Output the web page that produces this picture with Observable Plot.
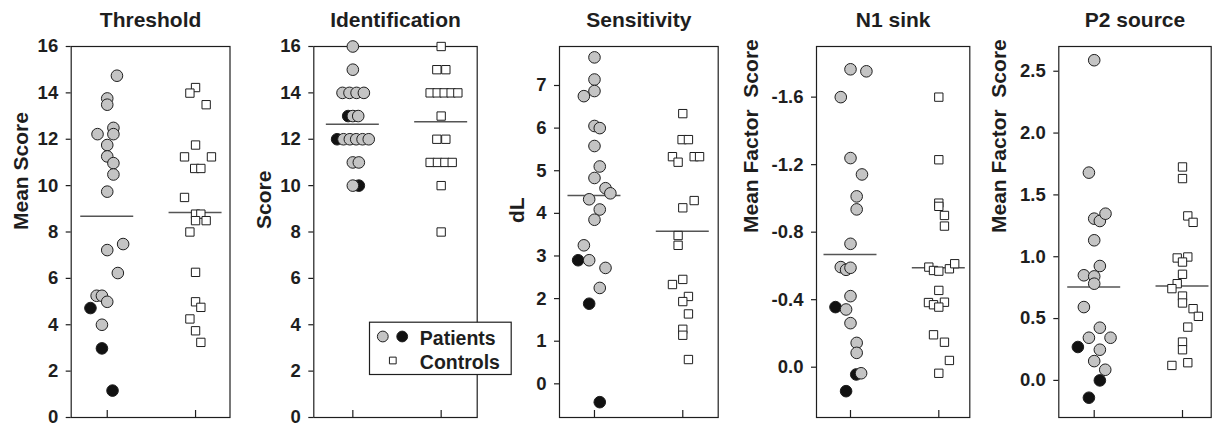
<!DOCTYPE html>
<html><head><meta charset="utf-8">
<script src="https://cdn.jsdelivr.net/npm/d3@7"></script>
<script src="https://cdn.jsdelivr.net/npm/@observablehq/plot@0.6"></script>
<style>
body{margin:0;background:#fff;}
#chart{display:flex;width:1218px;height:423px;}
#chart svg{overflow:visible;flex:none;}
</style></head><body><div id="chart"></div>
<script>
// ---------- data (jitter = horizontal offset in group units) ----------
const groupNames = ["Patients", "Controls"]; // drawn at x = 1 and x = 2

// Threshold
const thrGray    = [14.74,13.76,13.49,12.22,12.49,12.22,11.75,11.26,10.97,10.48,9.74,7.22,7.48,6.23,5.25,5.25,4.99,4.0];
const thrGrayJit = [0.11,0,0,-0.11,0.07,0.07,0,0,0.07,0.07,0,0,0.18,0.12,-0.12,-0.06,0,-0.06];
const thrBlack    = [4.72,2.98,1.16];
const thrBlackJit = [-0.19,-0.06,0.06];
const thrCtrl    = [14.23,13.99,13.49,11.75,11.24,11.24,10.74,10.74,9.49,8.77,8.77,8.49,8.49,8.0,6.26,4.99,4.75,4.25,3.74,3.24];
const thrCtrlJit = [0,-0.064,0.12,0,-0.125,0.18,-0.01,0.06,-0.125,0,0.06,0,0.12,-0.064,0,0,0.06,-0.064,0,0.06];
const thrMeans = [8.68, 8.84];
const thrTicks = [0,2,4,6,8,10,12,14,16];

// Identification
const idGray    = [16,15,14,14,14,14,13,13,12,12,12,12,12,11,11,10];
const idGrayJit = [0,0,-0.117,-0.038,0.042,0.125,0,0.061,-0.106,-0.034,0.038,0.11,0.18,0,0.068,0];
const idBlack    = [13,12,10];
const idBlackJit = [-0.053,-0.178,0.068];
const idCtrl    = [16,15,15,14,14,14,14,14,13,12,12,11,11,11,11,10,8];
const idCtrlJit = [0,-0.049,0.053,-0.125,-0.045,0.034,0.113,0.189,0,-0.049,0.053,-0.125,-0.042,0.042,0.125,0,0];
const idMeans = [12.65, 12.75];
const idTicks = [0,2,4,6,8,10,12,14,16];

// Sensitivity
const senGray    = [7.66,7.14,6.87,6.75,6.05,6.0,5.58,5.10,4.83,4.59,4.47,4.33,4.09,3.85,3.25,2.90,2.72,2.25];
const senGrayJit = [0,0,0,-0.12,0,0.06,0,0.06,0,0.125,0.18,-0.06,0.06,0,-0.12,-0.06,0.125,0.06];
const senBlack    = [2.90,1.88,-0.43];
const senBlackJit = [-0.185,-0.06,0.06];
const senCtrl    = [6.34,5.73,5.73,5.33,5.20,5.33,5.33,4.30,4.13,3.48,3.25,2.33,2.45,2.05,1.93,1.64,1.28,1.14,0.57];
const senCtrlJit = [0,-0.008,0.064,-0.117,-0.053,0.129,0.19,0.129,0,-0.053,-0.053,-0.117,0,0.064,0,0.064,0,0,0.064];
const senMeans = [4.42, 3.58];
const senTicks = [0,1,2,3,4,5,6,7];

// N1 sink
const n1Gray    = [-1.765,-1.753,-1.60,-1.239,-1.142,-1.012,-0.935,-0.731,-0.593,-0.577,-0.589,-0.421,-0.342,-0.261,-0.144,-0.085,0.036];
const n1GrayJit = [0,0.18,-0.11,0,0.13,0.07,0.07,0,-0.11,-0.05,0,0,-0.05,0,0.07,0.07,0.12];
const n1Black    = [-0.356,0.043,0.142];
const n1BlackJit = [-0.17,0.065,-0.05];
const n1Ctrl    = [-1.60,-1.229,-0.972,-0.953,-0.899,-0.836,-0.593,-0.573,-0.569,-0.583,-0.613,-0.455,-0.383,-0.370,-0.385,-0.356,-0.192,-0.148,-0.040,0.036];
const n1CtrlJit = [0,0,0,0,0.064,0.064,-0.113,-0.06,0,0.12,0.18,0,-0.117,-0.06,0.064,0,-0.06,0.064,0.12,0];
const n1Means = [-0.668, -0.589];
const n1Ticks = [-1.6,-1.2,-0.8,-0.4,0.0];

// P2 source
const p2Gray    = [2.589,1.680,1.308,1.289,1.348,1.133,0.925,0.850,0.841,0.782,0.593,0.426,0.345,0.345,0.248,0.156,0.086];
const p2GrayJit = [0,-0.06,0,0.064,0.128,0,0.064,-0.117,0,0,-0.117,0.064,-0.06,0.185,0.064,0,0.125];
const p2Black    = [0.270,0.0,-0.140];
const p2BlackJit = [-0.185,0.064,-0.06];
const p2Ctrl    = [1.726,1.632,1.330,1.278,0.990,0.998,0.957,0.858,0.782,0.742,0.682,0.626,0.580,0.518,0.431,0.310,0.248,0.121,0.143];
const p2CtrlJit = [0,0,0.06,0.12,-0.06,0.06,0,0,-0.06,-0.12,0,0,0.12,0.18,0.06,0,0,-0.12,0.06];
const p2Means = [0.755, 0.763];
const p2Ticks = [0,0.5,1.0,1.5,2.0,2.5];

const titles = ["Threshold","Identification","Sensitivity","N1 sink","P2 source"];
const yLabels = ["Mean Score","Score","dL","Mean Factor  Score","Mean Factor  Score"];
const legendLabels = ["Patients","Controls"];

// ---------- drawing ----------
const FONT = "'Liberation Sans', Arial, Helvetica, sans-serif";
const INK = "#1e1e1e";
const rows = (vals, jit, pos) => vals.map((v, i) => ({x: pos + jit[i], v}));

const panels = [
  {gray:[thrGray,thrGrayJit], black:[thrBlack,thrBlackJit], ctrl:[thrCtrl,thrCtrlJit], means:thrMeans, ticks:thrTicks, fmt:d=>String(d),
   yDomain:[0,16], reverse:false, xDomain:[0.592,2.390], width:250, ml:70.7, mr:20.5, labelDx:-50.2, labelDy:-2},
  {gray:[idGray,idGrayJit], black:[idBlack,idBlackJit], ctrl:[idCtrl,idCtrlJit], means:idMeans, ticks:idTicks, fmt:d=>String(d),
   yDomain:[0,16], reverse:false, xDomain:[0.558,2.408], width:250, ml:63.3, mr:23.3, labelDx:-49.1, labelDy:-3, legend:true},
  {gray:[senGray,senGrayJit], black:[senBlack,senBlackJit], ctrl:[senCtrl,senCtrlJit], means:senMeans, ticks:senTicks, fmt:d=>String(d),
   yDomain:[-0.79,7.915], reverse:false, xDomain:[0.604,2.401], width:250, ml:59, mr:32.3, labelDx:-42.3, labelDy:-9},
  {gray:[n1Gray,n1GrayJit], black:[n1Black,n1BlackJit], ctrl:[n1Ctrl,n1CtrlJit], means:n1Means, ticks:n1Ticks, fmt:d=>d.toFixed(1),
   yDomain:[-1.90,0.298], reverse:true, xDomain:[0.615,2.351], width:235, ml:66, mr:15.7, labelDx:-65.2, labelDy:1},
  {gray:[p2Gray,p2GrayJit], black:[p2Black,p2BlackJit], ctrl:[p2Ctrl,p2CtrlJit], means:p2Means, ticks:p2Ticks, fmt:d=>d.toFixed(1),
   yDomain:[-0.30,2.70], reverse:false, xDomain:[0.599,2.325], width:233, ml:73.3, mr:7.3, labelDx:-59.1, labelDy:1}
];

const chart = document.getElementById("chart");
panels.forEach((p, k) => {
  const meanRows = p.means.map((m, i) => ({pos: i + 1, m}));
  const marks = [
    Plot.frame({stroke: INK, strokeWidth: 1.2}),
    Plot.ruleX([1, 2], {insetTop: 364, stroke: INK, strokeWidth: 1.2}),
    Plot.axisY({ticks: p.ticks, tickFormat: p.fmt, tickSize: 5, tickPadding: 8, label: null,
                fontSize: 18.5, fontWeight: "bold", fill: INK, stroke: INK, strokeWidth: 1.2}),
    Plot.ruleY(meanRows, {y: "m", x1: d => d.pos - 0.3, x2: d => d.pos + 0.3, stroke: "#555", strokeWidth: 1.5}),
    Plot.dot(rows(p.black[0], p.black[1], 1), {x: "x", y: "v", r: 5.8, fill: "#111", stroke: INK, strokeWidth: 1}),
    Plot.dot(rows(p.gray[0], p.gray[1], 1), {x: "x", y: "v", r: 5.8, fill: "#c4c4c4", stroke: INK, strokeWidth: 1}),
    Plot.dot(rows(p.ctrl[0], p.ctrl[1], 2), {x: "x", y: "v", symbol: "square", r: 4.7, fill: "white", stroke: INK, strokeWidth: 1}),
    Plot.text([titles[k]], {text: d => d, frameAnchor: "top", dy: -20, lineAnchor: "bottom",
               fontSize: 21, fontWeight: "bold", fill: INK}),
    Plot.text([yLabels[k]], {text: d => d, frameAnchor: "left", dx: p.labelDx, dy: p.labelDy, rotate: -90,
               fontSize: 21, fontWeight: "bold", fill: INK})
  ];
  if (p.legend) {
    marks.push(
      Plot.frame({insetLeft: 55.7, insetRight: -34, insetTop: 275.7, insetBottom: 43, fill: "white", stroke: INK, strokeWidth: 1.2}),
      Plot.dot([0], {frameAnchor: "top-left", dx: 69, dy: 290, r: 5.4, fill: "#c4c4c4", stroke: INK, strokeWidth: 1}),
      Plot.dot([0], {frameAnchor: "top-left", dx: 88.4, dy: 290, r: 5.4, fill: "#111", stroke: INK, strokeWidth: 1}),
      Plot.dot([0], {frameAnchor: "top-left", dx: 79, dy: 314, r: 3.8, symbol: "square", fill: "white", stroke: INK, strokeWidth: 1}),
      Plot.text([legendLabels[0]], {text: d => d, frameAnchor: "top-left", dx: 106, dy: 298, textAnchor: "start", lineAnchor: "bottom",
                 fontSize: 19.5, fontWeight: "bold", fill: INK}),
      Plot.text([legendLabels[1]], {text: d => d, frameAnchor: "top-left", dx: 106, dy: 322.3, textAnchor: "start", lineAnchor: "bottom",
                 fontSize: 19.5, fontWeight: "bold", fill: INK})
    );
  }
  const svg = Plot.plot({
    width: p.width, height: 423,
    marginLeft: p.ml, marginRight: p.mr, marginTop: 46, marginBottom: 6,
    x: {type: "linear", domain: p.xDomain, axis: null},
    y: {type: "linear", domain: p.yDomain, reverse: p.reverse},
    style: {background: "transparent", overflow: "visible", fontFamily: FONT, maxWidth: "none"},
    marks
  });
  chart.appendChild(svg);
});
</script></body></html>
